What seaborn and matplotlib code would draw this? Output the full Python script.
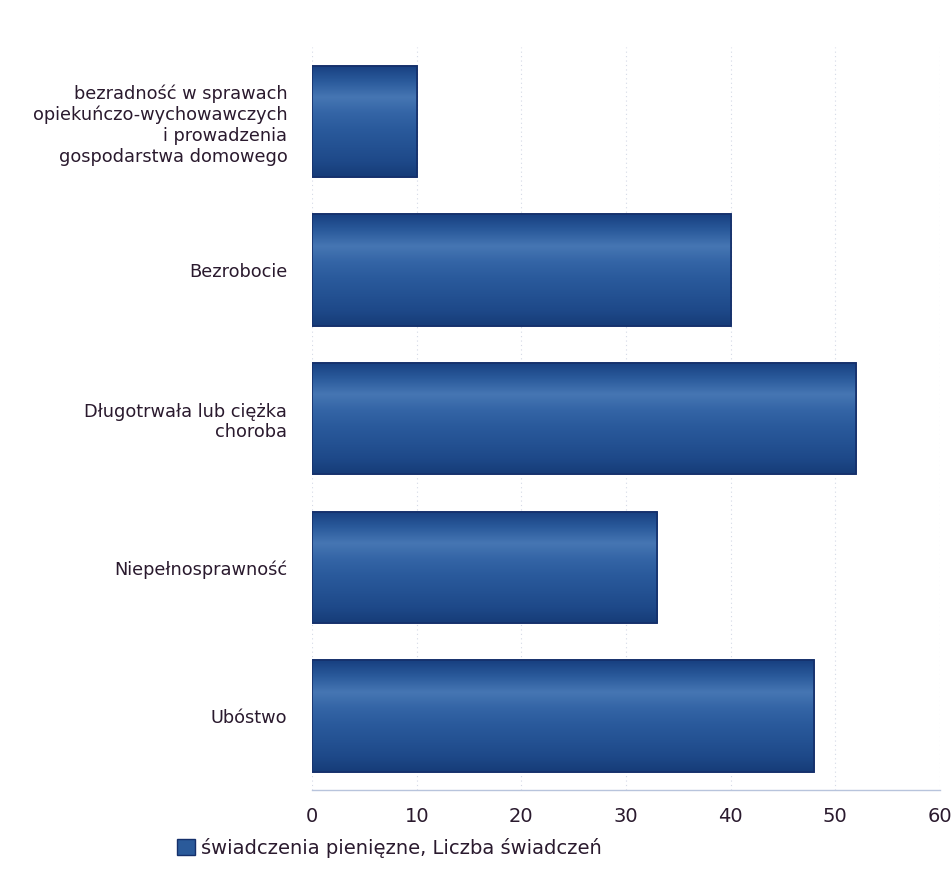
import numpy as np
import pandas as pd
import matplotlib
matplotlib.use("Agg")
import matplotlib.pyplot as plt
import seaborn as sns
from matplotlib.colors import LinearSegmentedColormap
from matplotlib.patches import Patch

# Dane
categories = [
    "bezradność w sprawach\nopiekuńczo-wychowawczych\ni prowadzenia\ngospodarstwa domowego",
    "Bezrobocie",
    "Długotrwała lub ciężka\nchoroba",
    "Niepełnosprawność",
    "Ubóstwo",
]
values = [10, 40, 52, 33, 48]
series_name = "świadczenia pienięzne, Liczba świadczeń"
x_ticks = [0, 10, 20, 30, 40, 50, 60]

df = pd.DataFrame({"kategoria": categories, "liczba": values})

sns.set_theme(style="white")
plt.rcParams["font.family"] = ["DejaVu Sans"]
text_color = "#2a1a2e"

fig = plt.figure(figsize=(9.52, 8.75), dpi=100)
ax = fig.add_axes([0.328, 0.097, 0.659, 0.849])

sns.barplot(data=df, y="kategoria", x="liczba", orient="h", color="#2a5a9a",
            width=0.75, ax=ax, edgecolor="#15306b", linewidth=1.2)

# gradient na słupkach
grad = LinearSegmentedColormap.from_list(
    "bar", ["#173f80", "#2a5a9b", "#4676b3", "#3465a6", "#2a5a9c",
            "#245293", "#1e4989", "#163c78"])
g = np.linspace(0, 1, 256).reshape(-1, 1)
for p in ax.patches:
    x0, y0 = p.get_x(), p.get_y()
    w, h = p.get_width(), p.get_height()
    im = ax.imshow(g, cmap=grad, aspect="auto", extent=[x0, x0 + w, y0 + h, y0],
                   zorder=p.get_zorder() + 0.1, interpolation="bilinear")
    im.set_clip_path(p)
    ax.add_patch(plt.Rectangle((x0, y0), w, h, fill=False, edgecolor="#15306b",
                               linewidth=1.2, zorder=p.get_zorder() + 0.2))

ax.set_xlim(0, 60)
ax.set_ylim(4.5, -0.5)
ax.set_xticks(x_ticks)
ax.set_xticklabels([str(t) for t in x_ticks], fontsize=14, color=text_color)
ax.tick_params(axis="x", length=0, pad=12)
ax.tick_params(axis="y", length=0, pad=18)
for lbl in ax.get_yticklabels():
    lbl.set_fontsize(12.8)
    lbl.set_color(text_color)
    lbl.set_multialignment("right")
    lbl.set_linespacing(1.2)
ax.set_xlabel("")
ax.set_ylabel("")

ax.xaxis.grid(True, linestyle=(0, (1, 3)), color="#d4d9e6", linewidth=0.8)
ax.set_axisbelow(True)
for side in ["top", "right", "left"]:
    ax.spines[side].set_visible(False)
ax.spines["bottom"].set_color("#b8c4dc")
ax.spines["bottom"].set_linewidth(1.0)

handle = Patch(facecolor="#2a5a9a", edgecolor="#15306b", label=series_name)
fig.legend(handles=[handle], loc="lower left", bbox_to_anchor=(0.168, 0.0),
           frameon=False, fontsize=14, handlelength=0.9, handleheight=0.9,
           handletextpad=0.3, labelcolor=text_color)

fig.savefig("out.png", dpi=100)
